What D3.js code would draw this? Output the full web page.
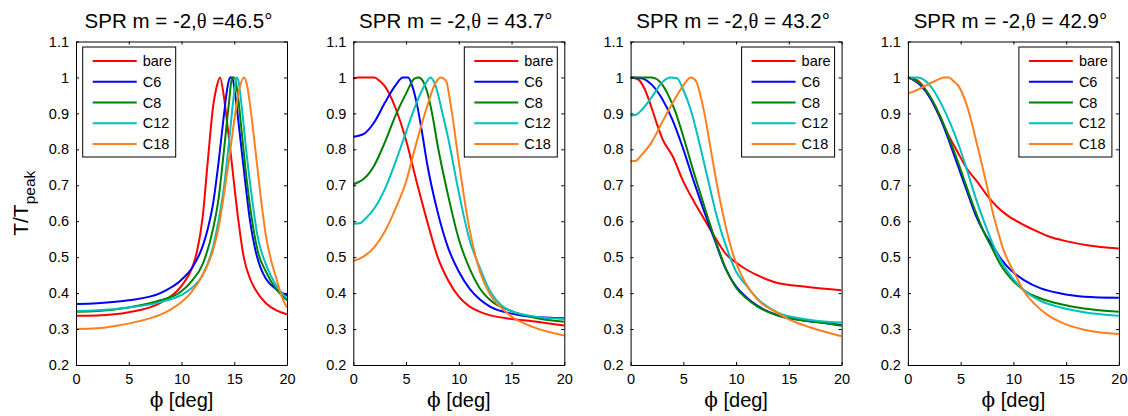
<!DOCTYPE html>
<html>
<head>
<meta charset="utf-8">
<script src="https://cdn.jsdelivr.net/npm/d3@7"></script>
<style>
  body { margin: 0; background: #fff; }
  text { font-family: "Liberation Sans", Arial, sans-serif; fill: #000; }
</style>
</head>
<body>
<svg id="chart" width="1128" height="416"></svg>
<script>
// ---- axis ticks ----
const phiTicks = [0, 5, 10, 15, 20];
const tTicks = [0.2, 0.3, 0.4, 0.5, 0.6, 0.7, 0.8, 0.9, 1.0, 1.1];
const tTickLabels = ["0.2", "0.3", "0.4", "0.5", "0.6", "0.7", "0.8", "0.9", "1", "1.1"];

// ---- series ----
const seriesNames = ["bare", "C6", "C8", "C12", "C18"];
const seriesColors = ["#ff0000", "#0000ff", "#008000", "#00bfbf", "#ff7f1f"];

// ---- panels: incidence angle theta ----
const thetaLabels = ["=46.5°", "= 43.7°", "= 43.2°", "= 42.9°"];

// normalised transmission T/Tpeak vs phi [deg], theta = 46.5°
const t465_bare = [[0,.337],[2,.338],[5,.347],[8,.373],[10,.42],[11,.47],[11.5,.52],[12,.61],[12.5,.77],[13,.92],[13.3,.97],[13.65,1.0],[14,.95],[14.3,.88],[14.7,.78],[15,.70],[15.4,.6],[15.9,.5],[16.5,.44],[17,.41],[18,.372],[19,.352],[20,.341]];
const t465_c6   = [[0,.37],[2,.372],[5,.38],[8,.40],[10,.437],[11,.47],[12,.53],[12.5,.58],[13,.65],[13.5,.76],[14,.89],[14.4,.98],[14.6,1.0],[14.8,1.0],[15.1,.95],[15.5,.85],[16,.72],[16.5,.6],[17,.52],[17.5,.47],[18,.44],[19,.41],[20,.394]];
const t465_c8   = [[0,.348],[2,.35],[5,.36],[8,.38],[10,.405],[11,.435],[12,.48],[13,.58],[13.5,.66],[14,.79],[14.5,.93],[14.8,1.0],[15.0,1.0],[15.3,.96],[15.7,.85],[16.2,.71],[16.7,.6],[17.2,.52],[18,.46],[19,.41],[20,.38]];
const t465_c12  = [[0,.35],[2,.352],[5,.36],[8,.375],[10,.395],[11,.415],[12,.45],[13,.53],[13.5,.6],[14,.69],[14.5,.82],[15,.96],[15.2,1.0],[15.4,.99],[15.7,.92],[16.2,.78],[16.7,.66],[17.2,.56],[18,.48],[19,.42],[20,.385]];
const t465_c18  = [[0,.30],[2,.302],[4,.31],[6,.322],[8,.34],[9,.355],[10,.375],[11,.405],[12,.45],[13,.52],[13.5,.58],[14,.67],[14.5,.77],[15,.88],[15.5,.97],[15.9,1.0],[16.2,.98],[16.6,.9],[17,.8],[17.5,.67],[18,.56],[18.5,.49],[19,.44],[19.5,.39],[20,.36]];

// theta = 43.7°
const t437_bare = [[0,.997],[0.5,1.0],[2,1.0],[2.5,.99],[3,.975],[4,.915],[5,.825],[6,.71],[7,.6],[8,.5],[9,.435],[10,.39],[11,.363],[12,.348],[13,.338],[15,.328],[17,.322],[20,.31]];
const t437_c6   = [[0,.835],[1,.843],[2,.876],[3,.93],[4,.978],[4.7,1.0],[5.2,1.0],[5.6,.975],[6,.93],[6.5,.85],[7,.76],[8,.625],[9,.525],[10,.46],[11,.413],[12,.382],[13,.362],[15,.343],[17,.334],[20,.33]];
const t437_c8   = [[0,.703],[1,.718],[2,.756],[3,.82],[4,.894],[5,.955],[5.8,.997],[6.2,1.0],[6.6,.99],[7,.96],[7.5,.895],[8,.81],[9,.67],[10,.55],[11,.47],[12,.413],[13,.38],[15,.35],[17,.333],[20,.32]];
const t437_c12  = [[0,.593],[0.7,.595],[1,.603],[2,.636],[3,.69],[4,.765],[5,.848],[6,.93],[7,.99],[7.3,1.0],[7.7,.985],[8.5,.894],[9,.83],[10,.68],[11,.55],[12,.47],[13,.404],[14,.367],[15,.35],[17,.336],[20,.328]];
const t437_c18  = [[0,.489],[1,.502],[2,.528],[3,.572],[4,.635],[5,.71],[6,.82],[7,.92],[7.8,.985],[8.3,1.0],[8.8,.99],[9.2,.93],[10,.765],[11,.58],[12,.46],[13,.394],[14,.36],[15,.335],[17,.306],[20,.282]];

// theta = 43.2°
const t432_bare = [[0,1.0],[0.7,.995],[1.3,.97],[2,.915],[2.5,.87],[3,.83],[4,.78],[5,.71],[6,.655],[7,.605],[8,.555],[9,.51],[10,.485],[11,.465],[12,.45],[13.6,.431],[16.8,.417],[20,.408]];
const t432_c6   = [[0,1.0],[1,.998],[2,.98],[3,.94],[4,.88],[5,.8],[6,.71],[7,.625],[8,.545],[9,.468],[10,.418],[11,.388],[12,.365],[14,.338],[16,.326],[18,.318],[20,.311]];
const t432_c8   = [[0,1.0],[2,1.0],[2.5,.995],[3,.98],[3.5,.955],[4.3,.9],[5,.835],[6,.735],[7,.64],[8,.55],[9,.47],[10,.415],[11,.385],[12,.363],[14,.337],[16,.325],[18,.318],[20,.309]];
const t432_c12  = [[0,.894],[0.5,.896],[1,.908],[2,.945],[3,.987],[3.8,1.0],[4.4,.998],[5,.965],[5.7,.91],[6.5,.82],[7.3,.72],[8.2,.61],[9.3,.51],[10,.46],[11,.42],[12,.385],[14,.345],[16,.33],[18,.322],[20,.318]];
const t432_c18  = [[0,.767],[0.5,.768],[1,.783],[2,.82],[3,.876],[4,.93],[5,.978],[5.7,1.0],[6.2,.99],[6.7,.94],[7,.9],[7.6,.8],[8.2,.7],[8.9,.6],[9.8,.5],[10.5,.45],[11.4,.405],[12.5,.37],[13.6,.35],[15,.327],[17,.305],[20,.28]];

// theta = 42.9°
const t429_bare = [[0,1.0],[0.9,.992],[1.8,.96],[2.8,.904],[3.7,.848],[4.7,.793],[5.6,.746],[6.6,.709],[7.5,.672],[8.5,.639],[9.4,.617],[10.7,.594],[12,.575],[13.5,.556],[15.1,.544],[17,.533],[20,.524]];
const t429_c6   = [[0,1.0],[1.2,.978],[2.15,.941],[3.1,.885],[4.05,.811],[4.84,.746],[5.63,.681],[6.42,.617],[7.2,.57],[8,.533],[8.8,.496],[9.75,.464],[11,.436],[12.6,.413],[14.5,.399],[16.7,.39],[20,.387]];
const t429_c8   = [[0,1.0],[1.2,.982],[2.15,.945],[3.1,.89],[4.05,.82],[4.84,.757],[5.63,.69],[6.42,.626],[7.2,.57],[8,.524],[8.8,.478],[9.75,.441],[11,.408],[12.6,.385],[14.5,.369],[16.7,.357],[20,.348]];
const t429_c12  = [[0,1.0],[0.9,1.0],[1.5,.994],[2.3,.97],[3.1,.93],[4.05,.87],[4.84,.81],[5.63,.74],[6.42,.665],[7.2,.6],[8,.54],[8.8,.49],[9.75,.448],[11,.408],[12.6,.378],[14.5,.36],[16.7,.347],[20,.337]];
const t429_c18  = [[0,.955],[1,.967],[2,.982],[3,.996],[3.4,1.0],[3.9,1.0],[4.3,.99],[4.8,.976],[5.5,.93],[6,.88],[6.5,.82],[7,.76],[7.4,.71],[7.7,.67],[8,.63],[8.5,.575],[9,.525],[9.5,.49],[10.2,.45],[11,.405],[12,.37],[13.2,.34],[14.8,.315],[16.7,.298],[20,.286]];

const panelSeries = [
  [t465_bare, t465_c6, t465_c8, t465_c12, t465_c18],
  [t437_bare, t437_c6, t437_c8, t437_c12, t437_c18],
  [t432_bare, t432_c6, t432_c8, t432_c12, t432_c18],
  [t429_bare, t429_c6, t429_c8, t429_c12, t429_c18]
];
const legendOnLeft = [true, false, false, false];

// ---- layout ----
const svg = d3.select("#chart");
const plotW = 211, plotTop = 41.5, plotBottom = 365;
const firstLeft = 76, panelStep = 277.3;
const tickLen = 3;

panelSeries.forEach((series, p) => {
  const left = firstLeft + p * panelStep;
  const x = d3.scaleLinear().domain([0, 20]).range([left, left + plotW]);
  const y = d3.scaleLinear().domain([0.2, 1.1]).range([plotBottom, plotTop]);
  const g = svg.append("g");

  const clipId = "clip" + p;
  svg.append("clipPath").attr("id", clipId)
    .append("rect").attr("x", left).attr("y", plotTop)
    .attr("width", plotW).attr("height", plotBottom - plotTop);

  // curves
  const line = d3.line().x(d => x(d[0])).y(d => y(d[1])).curve(d3.curveMonotoneX);
  const curves = g.append("g").attr("clip-path", `url(#${clipId})`);
  series.forEach((data, i) => {
    curves.append("path").datum(data)
      .attr("d", line)
      .attr("fill", "none")
      .attr("stroke", seriesColors[i])
      .attr("stroke-width", 2)
      .attr("stroke-linejoin", "round");
  });

  // axes (ticks point inward on all four sides)
  const styleAxis = sel => {
    sel.select(".domain").attr("stroke", "#000").attr("stroke-width", 1);
    sel.selectAll(".tick line").attr("stroke", "#000").attr("stroke-width", 1);
    sel.selectAll("text").attr("font-size", 14.5).attr("font-family", "'Liberation Sans', Arial, sans-serif").attr("fill", "#000");
  };
  g.append("g").attr("transform", `translate(0,${plotBottom})`)
    .call(d3.axisBottom(x).tickValues(phiTicks).tickFormat(d3.format("d"))
      .tickSizeInner(-tickLen).tickSizeOuter(0).tickPadding(9))
    .call(styleAxis);
  g.append("g").attr("transform", `translate(0,${plotTop})`)
    .call(d3.axisTop(x).tickValues(phiTicks).tickFormat("")
      .tickSizeInner(-tickLen).tickSizeOuter(0))
    .call(styleAxis);
  g.append("g").attr("transform", `translate(${left},0)`)
    .call(d3.axisLeft(y).tickValues(tTicks).tickFormat((d, i) => tTickLabels[i])
      .tickSizeInner(-tickLen).tickSizeOuter(0).tickPadding(7))
    .call(styleAxis);
  g.append("g").attr("transform", `translate(${left + plotW},0)`)
    .call(d3.axisRight(y).tickValues(tTicks).tickFormat("")
      .tickSizeInner(-tickLen).tickSizeOuter(0))
    .call(styleAxis);

  // title
  const title = g.append("text")
    .attr("x", left + plotW / 2 - 3).attr("y", 28)
    .attr("text-anchor", "middle").attr("font-size", 20.5);
  title.append("tspan").text("SPR m = -2,");
  title.append("tspan").attr("font-family", "'Liberation Serif', 'DejaVu Serif', serif").text("θ");
  title.append("tspan").text(" " + thetaLabels[p]);

  // x label
  const xl = g.append("text")
    .attr("x", left + plotW / 2).attr("y", 407)
    .attr("text-anchor", "middle").attr("font-size", 20);
  xl.append("tspan").attr("font-family", "'DejaVu Serif', 'Liberation Serif', serif").text("ϕ");
  xl.append("tspan").text(" [deg]");

  // legend
  const legW = 93, legH = 110;
  const legX = legendOnLeft[p] ? left + 6.7 : left + plotW - 7 - legW;
  const legY = 47;
  const leg = g.append("g");
  leg.append("rect").attr("x", legX).attr("y", legY).attr("width", legW).attr("height", legH)
    .attr("fill", "#fff").attr("stroke", "#000").attr("stroke-width", 1);
  seriesNames.forEach((name, i) => {
    const ry = legY + 14 + i * 20.75;
    leg.append("line").attr("x1", legX + 10).attr("x2", legX + 54)
      .attr("y1", ry).attr("y2", ry)
      .attr("stroke", seriesColors[i]).attr("stroke-width", 2);
    leg.append("text").attr("x", legX + 60).attr("y", ry).attr("dy", "0.36em")
      .attr("font-size", 14.5).text(name);
  });
});

// y label (first panel only)
const yl = svg.append("text")
  .attr("text-anchor", "middle")
  .attr("transform", `translate(28,${(plotTop + plotBottom) / 2}) rotate(-90)`)
  .attr("font-size", 21);
yl.append("tspan").text("T/T");
yl.append("tspan").attr("font-size", 15.5).attr("dy", 7).text("peak");
</script>
</body>
</html>
